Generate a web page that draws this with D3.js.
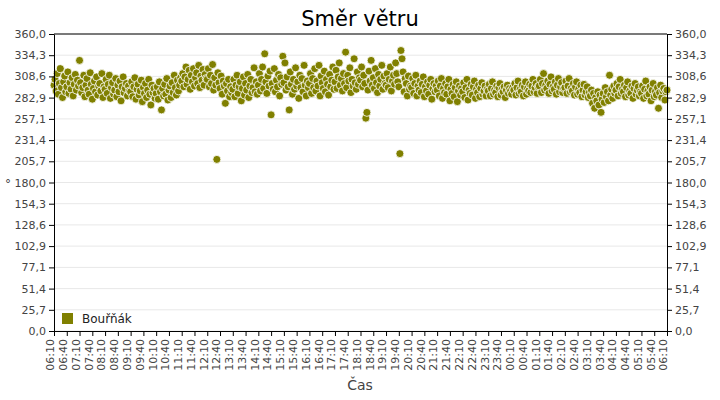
<!DOCTYPE html>
<html><head><meta charset="utf-8">
<script src="https://cdn.jsdelivr.net/npm/d3@7"></script>
<style>body{margin:0;background:#fff}text{font-family:"DejaVu Sans",sans-serif}</style>
</head><body><svg id="c" width="720" height="400"></svg>
<script>
const title = "Směr větru";
const seriesName = "Bouřňák";
const startTime = "06:10";
const stepMinutes = 2.5;
const yTicks = [0,25.7,51.4,77.1,102.9,128.6,154.3,180,205.7,231.4,257.1,282.9,308.6,334.3,360];
const direction = [
298,305,291,312,287,300,318,295,283,302,309,290,296,314,288,301,293,307,285,299,311,292,304,297,
328,301,289,295,310,284,298,306,292,287,313,299,281,294,303,290,308,286,297,300,291,312,283,296,
293,305,288,299,310,282,295,301,287,292,306,284,298,290,303,279,296,308,289,294,300,285,297,291,
290,302,284,296,307,281,293,299,286,291,304,278,295,288,300,283,292,305,287,274,298,289,294,282,
288,296,281,302,290,268,294,285,299,287,306,280,292,297,283,301,289,310,295,286,304,291,298,307,
303,312,296,308,320,299,305,316,293,310,302,318,297,307,313,300,322,295,309,304,317,298,311,306,
305,318,296,310,300,323,292,307,298,208,313,301,294,309,287,303,297,276,300,291,305,284,296,289,
293,305,284,298,310,288,296,302,279,294,308,286,300,292,311,283,297,305,289,295,319,290,302,287,
298,312,291,305,320,294,336,302,288,309,297,315,262,300,293,318,290,304,296,311,285,307,299,333,
301,325,292,308,296,268,314,299,287,305,293,319,297,302,282,310,295,306,290,322,298,285,303,295,
300,312,288,306,295,318,291,303,297,322,285,309,301,294,315,290,305,299,286,311,296,304,320,293,
302,316,294,308,325,298,306,291,312,300,338,295,310,303,319,289,305,297,330,301,293,314,299,307,
304,320,296,310,300,258,265,292,315,303,328,298,307,294,318,301,289,311,297,305,322,293,309,300,
298,312,295,305,320,291,303,310,299,325,312,302,296,215,340,330,314,290,306,300,285,309,293,297,
295,306,288,300,310,285,297,292,303,289,299,308,284,296,291,302,287,298,305,281,294,300,290,297,
292,303,285,297,306,282,294,289,300,287,296,305,279,293,288,299,284,295,302,278,291,297,286,294,
290,301,283,295,305,280,292,288,299,286,296,303,282,293,289,298,284,294,301,287,291,297,285,293,
291,299,285,294,302,287,292,289,297,284,295,300,286,293,290,296,283,292,298,288,294,291,287,295,
292,300,286,295,303,288,293,290,298,285,296,302,287,294,291,299,289,297,305,290,295,300,288,296,
297,305,289,300,312,292,298,294,303,288,299,308,291,296,293,302,287,298,306,290,296,301,289,294,
295,303,288,297,306,290,294,291,300,286,296,302,287,293,289,298,284,292,299,286,290,296,283,289,
285,292,276,288,270,283,279,290,274,286,265,281,288,277,295,284,290,279,310,286,293,282,297,288,
292,300,285,296,305,288,293,290,298,284,295,302,286,291,288,297,282,294,300,287,292,296,285,290,
288,297,282,293,303,285,291,287,296,279,292,300,284,290,286,295,270,289,298,283,291,294,280,290,292];

const svg = d3.select("#c");
const L=54,R=667,T=34,B=331;
const t0 = new Date(2020,0,1,6,10);
const t1 = new Date(2020,0,2,6,10);
const x = d3.scaleTime().domain([t0,t1]).range([L,R]);
const y = d3.scaleLinear().domain([0,360]).range([B,T]);
const fmt = v => v.toFixed(1).replace(".",",");
const col = "#808000";

svg.append("g").selectAll("line").data(yTicks).join("line")
  .attr("x1",L).attr("x2",R).attr("y1",d=>y(d)).attr("y2",d=>y(d)).attr("stroke","#e8e8e8");

const pts = direction.map((v,i)=>({t:new Date(+t0+i*stepMinutes*60000),v}));
svg.append("g").selectAll("circle").data(pts).join("circle")
  .attr("cx",d=>x(d.t)).attr("cy",d=>y(d.v)).attr("r",4)
  .attr("fill",col).attr("stroke","#fff").attr("stroke-width",0.8);

const ticks = d3.range(0,49).map(i=>new Date(+t0+i*30*60000));
const ax = svg.append("g").attr("transform",`translate(0,${B})`)
  .call(d3.axisBottom(x).tickValues(ticks).tickFormat(d3.timeFormat("%H:%M")).tickSize(5).tickSizeOuter(0));
ax.selectAll("text").attr("transform","rotate(-90)").attr("text-anchor","end")
  .attr("x",-8).attr("y",-4).attr("dy","0.35em").attr("fill","#444").style("font-size","11px");
const ay = svg.append("g").attr("transform",`translate(${L},0)`)
  .call(d3.axisLeft(y).tickValues(yTicks).tickFormat(fmt).tickSize(5).tickSizeOuter(0));
const ay2 = svg.append("g").attr("transform",`translate(${R},0)`)
  .call(d3.axisRight(y).tickValues(yTicks).tickFormat(fmt).tickSize(5).tickSizeOuter(0));
[ay,ay2].forEach(a=>a.selectAll("text").attr("fill","#444").style("font-size","11px"));
[ax,ay,ay2].forEach(a=>a.select(".domain").attr("stroke","#000"));
svg.append("line").attr("x1",L).attr("x2",R).attr("y1",T).attr("y2",T).attr("stroke","#000");

svg.append("text").attr("x",360).attr("y",26).attr("text-anchor","middle").style("font-size","21px").text(title);
svg.append("text").attr("x",360).attr("y",390).attr("text-anchor","middle").attr("fill","#444").style("font-size","14px").text("Čas");
svg.append("text").attr("x",5).attr("y",188).attr("fill","#444").style("font-size","12px").text("°");
svg.append("rect").attr("x",62).attr("y",313).attr("width",11).attr("height",11).attr("fill",col);
svg.append("text").attr("x",82).attr("y",323).style("font-size","12px").attr("fill","#222").text(seriesName);
</script></body></html>
